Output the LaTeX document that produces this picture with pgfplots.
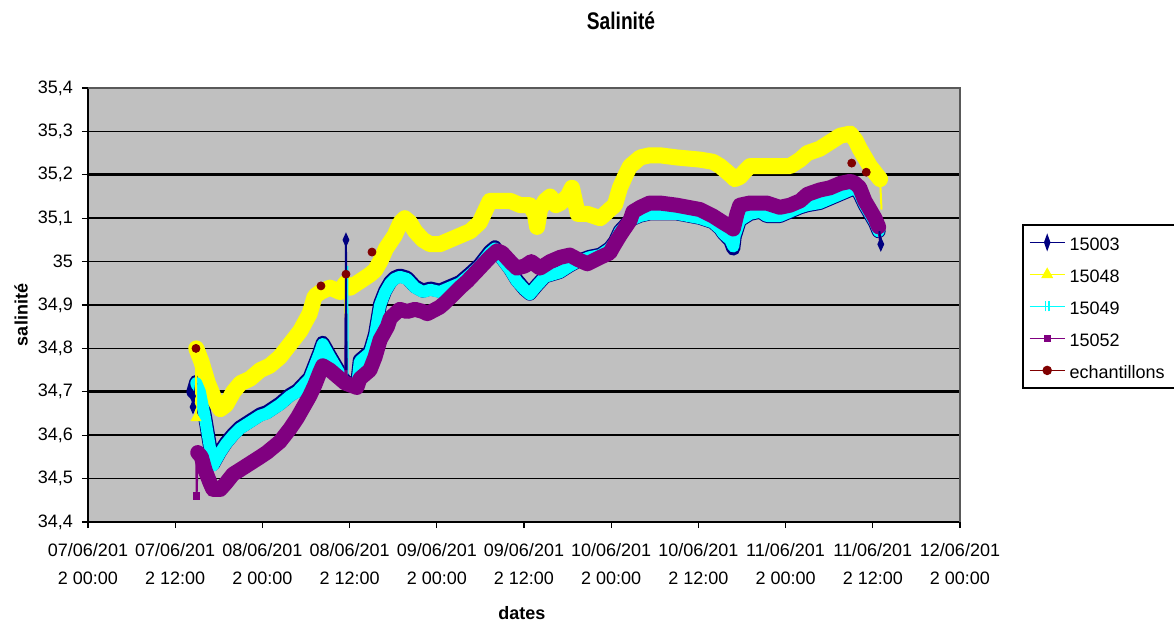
\documentclass[border=0pt]{standalone}
\usepackage{graphicx}
\usepackage{fontspec}
\setmainfont{Liberation Sans}
\usepackage{pgfplots}
\pgfplotsset{compat=1.18}

\definecolor{cnavy}{HTML}{000080}
\definecolor{cyel}{HTML}{FFFF00}
\definecolor{ccyan}{HTML}{00FFFF}
\definecolor{cpurp}{HTML}{800080}
\definecolor{cred}{HTML}{800000}
\definecolor{plotgray}{HTML}{C0C0C0}

\begin{document}
\begin{tikzpicture}
\useasboundingbox (-44pt,-53pt) rectangle (543pt,261pt);
\begin{axis}[
    scale only axis,
    width=436pt,
    height=217pt,
    xmin=0, xmax=120,
    ymin=34.4, ymax=35.4,
    axis x line*=bottom,
    axis y line*=left,
    axis line style={black, line width=1pt},
    axis background/.style={fill=plotgray},
    tick align=outside,
    major tick length=3pt,
    tick style={black, line width=0.6pt},
    xtick={0,12,24,36,48,60,72,84,96,108,120},
    xticklabels={{07/06/201\\2 00:00},{07/06/201\\2 12:00},{08/06/201\\2 00:00},{08/06/201\\2 12:00},
                 {09/06/201\\2 00:00},{09/06/201\\2 12:00},{10/06/201\\2 00:00},{10/06/201\\2 12:00},
                 {11/06/201\\2 00:00},{11/06/201\\2 12:00},{12/06/201\\2 00:00}},
    x tick label style={font=\fontsize{9}{14}\selectfont, align=center, yshift=-4pt},
    ytick={34.4,34.5,34.6,34.8,34.9,35,35.1,35.3,35.4},
    yticklabels={{34,4},{34,5},{34,6},{34,8},{34,9},{35},{35,1},{35,3},{35,4}},
    extra y ticks={34.7,35.2},
    extra y tick labels={{34,7},{35,2}},
    extra y tick style={major grid style={black, line width=1.4pt}},
    y tick label style={font=\fontsize{9}{11}\selectfont, xshift=-1pt},
    ymajorgrids=true,
    major grid style={black, line width=0.75pt},
    legend style={
        at={(1.0711,0.6866)}, anchor=north west,
        draw=black, line width=0.9pt, fill=white,
        font=\fontsize{9}{11}\selectfont,
        inner xsep=3pt, inner ysep=4pt,
        row sep=6.5pt,
        nodes={inner ysep=0.5pt, text height=8.5pt, text depth=0pt},
    },
    legend cell align=left,
    band/.style={line width=#1, line join=round, line cap=round, mark=none, forget plot},
    thin/.style={line width=1pt, forget plot},
]
% 15003 (navy)
\addplot[cnavy, band=7pt] coordinates {
(14.5,34.70) (14.9,34.723) (15.4,34.703) (16.1,34.643) (16.8,34.573) (17.2,34.533) (18.2,34.563)
(19.0,34.583) (20.0,34.603) (20.9,34.618) (22.3,34.633) (23.7,34.648) (24.6,34.653) (26.4,34.673)
(27.8,34.693) (28.8,34.703) (30.5,34.733) (31.2,34.763) (31.9,34.793) (32.3,34.813) (33.3,34.783)
(34.7,34.743) (35.4,34.723) (37.0,34.713) (37.4,34.773) (38.8,34.793) (39.5,34.833) (40.2,34.903)
(40.9,34.933) (41.6,34.953) (42.2,34.963) (42.9,34.968) (43.9,34.963) (45.0,34.943) (46.1,34.933)
(47.1,34.938) (48.4,34.933) (49.1,34.938) (51.2,34.953) (52.6,34.973) (53.9,34.993) (55.3,35.023)
(56.0,35.033) (56.3,35.023) (58.1,34.983) (59.0,34.958) (60.1,34.936) (60.8,34.926) (61.8,34.946)
(62.9,34.966) (64.9,34.976) (66.3,34.991) (67.4,35.001) (69.0,35.011) (70.5,35.016) (71.8,35.031)
(72.5,35.046) (73.2,35.071) (74.6,35.096) (76.0,35.106) (77.3,35.111) (78.7,35.111) (81.0,35.111)
(84.2,35.101) (86.0,35.091) (87.0,35.076) (87.4,35.066) (88.4,35.048) (88.8,35.030) (89.0,35.058)
(89.7,35.095) (91.1,35.11) (92.5,35.115) (93.4,35.105) (95.2,35.105) (96.6,35.115) (98.0,35.125)
(99.0,35.13) (100.7,35.135) (102.1,35.145) (103.5,35.155) (104.9,35.165) (105.6,35.17) (106.2,35.155)
(106.9,35.13) (107.6,35.11) (108.3,35.09) (108.8,35.07)
};
% 15046 (yellow)
\addplot[cyel, band=8pt] coordinates {
(14.9,34.80) (15.6,34.77) (16.5,34.72) (17.5,34.68) (18.2,34.66) (19.0,34.67) (20.0,34.70) (21.0,34.72)
(22.3,34.73) (23.7,34.75) (25.0,34.76) (26.4,34.78) (27.8,34.81) (29.2,34.84) (30.5,34.88) (31.2,34.92)
(32.0,34.93) (33.3,34.94) (34.7,34.93) (35.4,34.95) (36.1,34.94) (37.0,34.95) (38.8,34.97) (39.5,34.98)
(40.2,35.00) (41.0,35.03) (42.2,35.06) (43.0,35.09) (43.6,35.10) (44.3,35.09) (45.0,35.07) (46.1,35.05)
(47.1,35.04) (48.4,35.04) (49.1,35.045) (51.2,35.06) (52.6,35.07) (53.9,35.09) (55.3,35.14) (56.3,35.14)
(58.1,35.14) (59.5,35.13) (60.8,35.13) (61.5,35.11) (61.8,35.08) (62.2,35.12) (62.9,35.14) (63.6,35.15)
(64.4,35.13) (65.0,35.135) (66.0,35.15) (66.6,35.17) (67.4,35.11) (68.7,35.11) (70.5,35.10) (71.8,35.12)
(72.5,35.13) (73.2,35.17) (74.0,35.20) (74.6,35.22) (76.0,35.24) (77.3,35.245) (78.7,35.245) (81.0,35.24)
(84.2,35.235) (86.0,35.23) (87.0,35.22) (88.4,35.20) (89.0,35.19) (89.7,35.195) (90.5,35.21) (91.1,35.22)
(93.4,35.22) (95.2,35.22) (96.6,35.22) (98.0,35.235) (99.0,35.25) (100.7,35.26) (102.1,35.275)
(103.5,35.29) (104.9,35.295) (105.6,35.28) (106.2,35.26) (106.9,35.24) (107.6,35.22) (108.3,35.205)
(109.0,35.19)
};
% 15049 (cyan)
\addplot[ccyan, band=6pt] coordinates {
(14.9,34.72) (15.4,34.70) (16.1,34.64) (16.8,34.57) (17.2,34.53) (18.2,34.56) (19.0,34.58) (20.0,34.60)
(20.9,34.615) (22.3,34.63) (23.7,34.645) (24.6,34.65) (26.4,34.67) (27.8,34.69) (28.8,34.70) (30.5,34.73)
(31.2,34.76) (31.9,34.79) (32.3,34.81) (33.3,34.78) (34.7,34.74) (35.4,34.72) (37.0,34.71) (37.4,34.77)
(38.8,34.79) (39.5,34.83) (40.2,34.90) (40.9,34.93) (41.6,34.95) (42.2,34.96) (42.9,34.965) (43.9,34.96)
(45.0,34.94) (46.1,34.93) (47.1,34.935) (48.4,34.93) (49.1,34.935) (51.2,34.95) (52.6,34.97) (53.9,34.99)
(55.3,35.02) (56.0,35.03) (56.3,35.02) (58.1,34.98) (59.0,34.955) (60.1,34.935) (60.8,34.925) (61.8,34.945)
(62.9,34.965) (64.9,34.975) (66.3,34.99) (67.4,35.00) (69.0,35.01) (70.5,35.015) (71.8,35.03) (72.5,35.045)
(73.2,35.07) (74.6,35.095) (76.0,35.105) (77.3,35.11) (78.7,35.11) (81.0,35.11) (84.2,35.10) (86.0,35.09)
(87.0,35.075) (87.4,35.065) (88.4,35.05) (88.8,35.035) (89.0,35.06) (89.7,35.095) (91.1,35.11)
(92.5,35.115) (93.4,35.105) (95.2,35.105) (96.6,35.115) (98.0,35.125) (99.0,35.13) (100.7,35.135)
(102.1,35.145) (103.5,35.155) (104.9,35.165) (105.6,35.17) (106.2,35.155) (106.9,35.13) (107.6,35.11)
(108.3,35.09) (108.8,35.07)
};
% 15052 (purple)
\addplot[cpurp, band=7.5pt] coordinates {
(15.1,34.56) (15.6,34.55) (16.1,34.52) (16.8,34.49) (17.2,34.475) (18.2,34.475) (19.0,34.49) (19.95,34.51)
(20.9,34.52) (22.3,34.535) (23.7,34.55) (24.6,34.56) (26.4,34.585) (27.8,34.615) (28.8,34.64) (30.5,34.69)
(31.2,34.715) (31.9,34.745) (32.3,34.76) (33.3,34.75) (34.7,34.73) (35.4,34.72) (37.0,34.71) (37.4,34.73)
(38.8,34.75) (39.5,34.78) (40.2,34.82) (41.2,34.85) (41.6,34.87) (42.9,34.89) (43.9,34.885) (45.0,34.89)
(46.1,34.885) (46.7,34.88) (48.4,34.895) (49.1,34.905) (51.2,34.94) (52.2,34.955) (53.9,34.985) (55.3,35.01)
(56.3,35.025) (57.0,35.02) (58.1,35.00) (59.0,34.985) (60.1,34.99) (61.0,35.00) (62.2,34.985) (63.6,35.00)
(65.0,35.01) (66.3,35.015) (67.4,35.005) (68.7,34.995) (70.5,35.01) (71.8,35.02) (72.3,35.035) (73.2,35.06)
(74.6,35.095) (75.0,35.115) (76.0,35.125) (77.3,35.135) (78.7,35.135) (81.0,35.13) (84.2,35.12)
(86.0,35.105) (87.4,35.09) (88.4,35.08) (88.8,35.075) (89.3,35.11) (89.7,35.13) (91.1,35.135)
(93.4,35.135) (95.2,35.125) (96.6,35.13) (98.0,35.14) (99.0,35.155) (100.7,35.165) (102.1,35.17)
(103.5,35.18) (104.9,35.185) (105.6,35.18) (106.2,35.17) (106.9,35.14) (107.6,35.12) (108.3,35.10)
(108.8,35.08)
};
% start, spike and end details
\addplot[cnavy, thin, mark=diamond*, mark size=2.5pt, mark options={xscale=0.6}, mark indices={1,2}]
  coordinates {(14.4,34.69) (14.45,34.665) (14.9,34.72)};
\addplot[cyel, thin, mark=triangle*, mark size=2.2pt, mark indices={1}]
  coordinates {(14.86,34.64) (14.9,34.80)};
\addplot[cpurp, thin, mark=square*, mark size=1.4pt, mark indices={2}]
  coordinates {(14.9,34.57) (14.95,34.46) (15.1,34.56)};
\addplot[cyel, thin] coordinates {(35.35,34.95) (35.45,34.87) (35.55,34.95)};
\addplot[ccyan, thin, line width=1.3pt] coordinates {(35.6,34.74) (35.65,34.99) (35.7,34.74)};
\addplot[cpurp, thin, line width=1.3pt] coordinates {(35.45,34.72) (35.5,34.88) (35.55,34.72)};
\addplot[cnavy, thin, mark=diamond*, mark size=2.6pt, mark options={xscale=0.6}, mark indices={2}]
  coordinates {(35.45,34.75) (35.5,35.05) (35.55,34.75)};
\addplot[cyel, thin, mark=triangle*, mark size=2.2pt, mark indices={1}]
  coordinates {(109.0,35.19) (109.2,35.12)};
\addplot[cpurp, thin, line width=1.5pt] coordinates {(108.8,35.08) (109.1,35.04)};
\addplot[cnavy, thin, mark=diamond*, mark size=2.6pt, mark options={xscale=0.6}, mark indices={2}]
  coordinates {(108.9,35.07) (109.1,35.04)};
% echantillons
\addplot[cred, only marks, mark=*, mark size=2pt, forget plot] coordinates {
(14.86,34.80) (32.06,34.944) (35.5,34.971) (39.08,35.022) (105.1,35.227) (107.1,35.206)
};
% legend
\addlegendimage{legend image code/.code={
  \draw[cnavy,line width=0.8pt] (0pt,0pt) -- (17.5pt,0pt);
  \fill[cnavy] (8.75pt,3.2pt) -- (9.9pt,0pt) -- (8.75pt,-3.2pt) -- (7.6pt,0pt) -- cycle;}}
\addlegendentry{15003}
\addlegendimage{legend image code/.code={
  \draw[cyel,line width=0.8pt] (0pt,0pt) -- (17.5pt,0pt);
  \fill[cyel] (8.75pt,2.6pt) -- (11pt,-1.4pt) -- (6.5pt,-1.4pt) -- cycle;}}
\addlegendentry{15048}
\addlegendimage{legend image code/.code={
  \draw[ccyan,line width=0.8pt] (0pt,0pt) -- (17.5pt,0pt);
  \draw[ccyan,line width=0.7pt] (7.9pt,-2.5pt) -- (7.9pt,2.5pt) (9.6pt,-2.5pt) -- (9.6pt,2.5pt);}}
\addlegendentry{15049}
\addlegendimage{legend image code/.code={
  \draw[cpurp,line width=0.8pt] (0pt,0pt) -- (17.5pt,0pt);
  \fill[cpurp] (7.35pt,-1.4pt) rectangle (10.15pt,1.4pt);}}
\addlegendentry{15052}
\addlegendimage{legend image code/.code={
  \draw[cred,line width=0.8pt] (0pt,0pt) -- (17.5pt,0pt);
  \fill[cred] (8.75pt,0pt) circle (1.9pt);}}
\addlegendentry{echantillons\hspace{24pt}}
\end{axis}
\draw[gray!70!black, line width=0.8pt] (0pt,217pt) -- (436pt,217pt) -- (436pt,0pt);
\node[font=\fontsize{12}{14}\selectfont\bfseries] at (266.5pt,250.5pt) {\scalebox{0.8}[1]{Salinité}};
\node[rotate=90, font=\fontsize{9}{11}\selectfont\bfseries] at (-33.5pt,103.5pt) {salinité};
\node[font=\fontsize{9}{11}\selectfont\bfseries] at (217pt,-45.5pt) {dates};
\end{tikzpicture}
\end{document}
